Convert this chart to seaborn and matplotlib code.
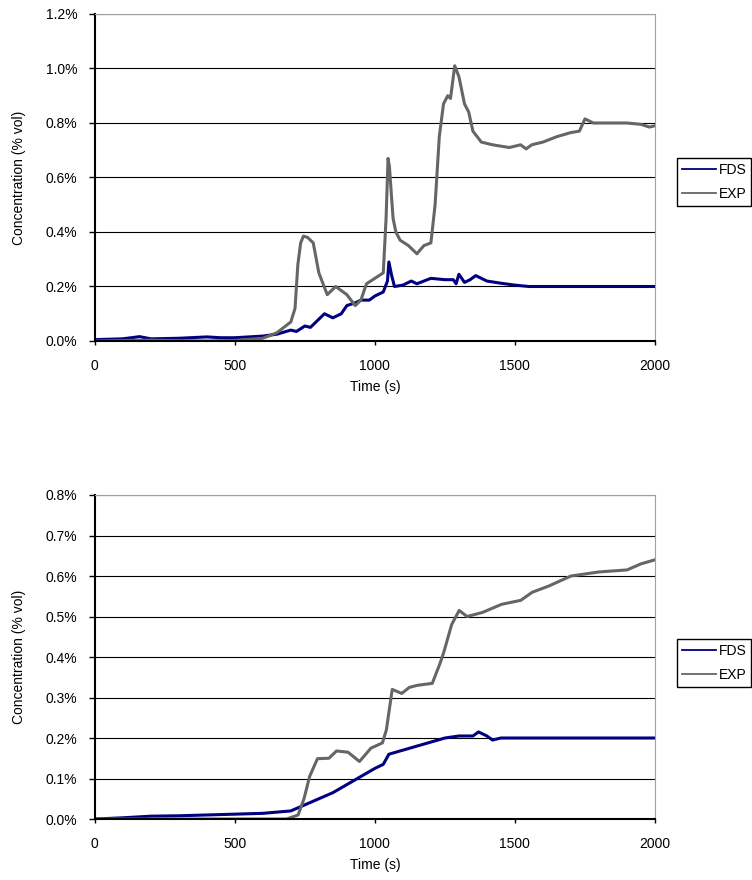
import matplotlib
matplotlib.use("Agg")
import matplotlib.pyplot as plt
import matplotlib.ticker as mticker
import numpy as np
import pandas as pd
import seaborn as sns
from matplotlib.lines import Line2D

# top chart, values in % vol
top_exp_t = [0, 200, 400, 500, 600, 650, 700, 715, 725, 735, 745, 760, 780, 800, 830, 860, 900, 930,
             950, 970, 1000, 1030, 1040, 1047, 1052, 1058, 1065, 1075, 1090, 1120, 1150, 1175, 1200,
             1215, 1230, 1245, 1260, 1270, 1285, 1300, 1320, 1335, 1350, 1380, 1420, 1480, 1520, 1540,
             1560, 1600, 1650, 1700, 1730, 1750, 1780, 1850, 1900, 1950, 1980, 2000]
top_exp_c = [0.0, 0.003, 0.0, 0.002, 0.01, 0.03, 0.07, 0.12, 0.28, 0.36, 0.385, 0.38, 0.36, 0.25, 0.17,
             0.2, 0.17, 0.13, 0.15, 0.21, 0.23, 0.25, 0.45, 0.67, 0.64, 0.55, 0.45, 0.4, 0.37, 0.35, 0.32,
             0.35, 0.36, 0.5, 0.75, 0.87, 0.9, 0.89, 1.01, 0.97, 0.87, 0.84, 0.77, 0.73, 0.72, 0.71, 0.72,
             0.705, 0.72, 0.73, 0.75, 0.765, 0.77, 0.815, 0.8, 0.8, 0.8, 0.795, 0.785, 0.79]
top_fds_t = [0, 100, 160, 200, 300, 400, 450, 500, 600, 650, 700, 720, 750, 770, 800, 820, 850, 880,
             900, 930, 950, 980, 1000, 1030, 1045, 1050, 1060, 1070, 1100, 1130, 1150, 1200, 1250,
             1280, 1290, 1300, 1320, 1340, 1360, 1400, 1450, 1500, 1550, 2000]
top_fds_c = [0.005, 0.008, 0.016, 0.008, 0.01, 0.015, 0.012, 0.012, 0.018, 0.025, 0.04, 0.035, 0.055,
             0.05, 0.08, 0.1, 0.085, 0.1, 0.13, 0.14, 0.15, 0.15, 0.165, 0.18, 0.22, 0.29, 0.24, 0.2,
             0.205, 0.22, 0.21, 0.23, 0.225, 0.225, 0.21, 0.245, 0.215, 0.225, 0.24, 0.22, 0.212, 0.205,
             0.2, 0.2]

# bottom chart
bot_exp_t = [0, 600, 685, 726, 747, 767, 795, 836, 863, 904, 945, 986, 1027, 1041, 1062, 1096, 1123,
             1151, 1205, 1233, 1247, 1274, 1301, 1329, 1384, 1452, 1521, 1562, 1620, 1700, 1800, 1900,
             1950, 2000]
bot_exp_c = [0.0, 0.0, 0.0, 0.01, 0.05, 0.105, 0.149, 0.15, 0.168, 0.165, 0.142, 0.175, 0.188, 0.22,
             0.32, 0.31, 0.325, 0.33, 0.335, 0.385, 0.414, 0.48, 0.515, 0.5, 0.51, 0.53, 0.54, 0.56,
             0.575, 0.6, 0.61, 0.615, 0.63, 0.64]
bot_fds_t = [0, 100, 200, 300, 400, 500, 600, 700, 750, 800, 850, 900, 950, 1000, 1030, 1050, 1100,
             1150, 1200, 1250, 1300, 1350, 1370, 1400, 1420, 1450, 1550, 2000]
bot_fds_c = [0.0, 0.003, 0.007, 0.008, 0.01, 0.012, 0.014, 0.02, 0.035, 0.05, 0.065, 0.085, 0.105, 0.125,
             0.135, 0.16, 0.17, 0.18, 0.19, 0.2, 0.205, 0.205, 0.215, 0.205, 0.195, 0.2, 0.2, 0.2]

x_ticks = [0, 500, 1000, 1500, 2000]
series = ["FDS", "EXP"]
palette = {"FDS": "#000080", "EXP": "#666666"}

plt.rcParams['font.family'] = ['Liberation Sans', 'DejaVu Sans']

fig = plt.figure(figsize=(7.52, 8.8), dpi=100)
ax1 = fig.add_axes([0.126, 0.6125, 0.745, 0.3716])
ax2 = fig.add_axes([0.126, 0.0693, 0.745, 0.3682])


def make_df(fds_t, fds_c, exp_t, exp_c):
    a = pd.DataFrame({"t": fds_t, "c": fds_c, "s": "FDS"})
    b = pd.DataFrame({"t": exp_t, "c": exp_c, "s": "EXP"})
    return pd.concat([a, b], ignore_index=True)


def style(ax, ymax, ystep):
    ax.set_xlim(0, 2000)
    ax.set_ylim(0, ymax)
    ax.set_xticks(x_ticks)
    ax.set_yticks(np.arange(0, ymax + ystep / 2, ystep))
    ax.yaxis.set_major_formatter(mticker.FuncFormatter(lambda v, p: "%.1f%%" % v))
    ax.grid(axis='y', color='black', linewidth=0.8)
    ax.set_axisbelow(True)
    for s in ['top', 'right']:
        ax.spines[s].set_color('#a0a0a0')
    for s in ['left', 'bottom']:
        ax.spines[s].set_color('black')
        ax.spines[s].set_linewidth(1.5)
    ax.tick_params(axis='y', direction='out', length=4, width=1, pad=8.5, labelsize=10, color='black')
    ax.tick_params(axis='x', direction='out', length=3, width=1, pad=10, labelsize=10, color='black')
    ax.set_xlabel("Time (s)", fontsize=10, labelpad=5)
    ax.set_ylabel("Concentration (% vol)", fontsize=10, labelpad=14)
    if ax.get_legend():
        ax.get_legend().remove()


df1 = make_df(top_fds_t, top_fds_c, top_exp_t, top_exp_c)
sns.lineplot(data=df1, x="t", y="c", hue="s", palette=palette, linewidth=2.2, ax=ax1)
style(ax1, 1.2, 0.2)

df2 = make_df(bot_fds_t, bot_fds_c, bot_exp_t, bot_exp_c)
sns.lineplot(data=df2, x="t", y="c", hue="s", palette=palette, linewidth=2.2, ax=ax2)
style(ax2, 0.8, 0.1)

# legend handles are thin in the original
handles = [Line2D([], [], color=palette[s], linewidth=1.3) for s in series]
for y in [0.8205, 0.274]:
    leg = fig.legend(handles, series, loc='upper left', bbox_to_anchor=(0.9, y), fontsize=10,
                     frameon=True, fancybox=False, framealpha=1, edgecolor='black',
                     handlelength=2.45, handletextpad=0.2, borderpad=0.35, labelspacing=0.75,
                     borderaxespad=0)
    leg.get_frame().set_linewidth(1.0)

fig.savefig("out.png", dpi=100)
